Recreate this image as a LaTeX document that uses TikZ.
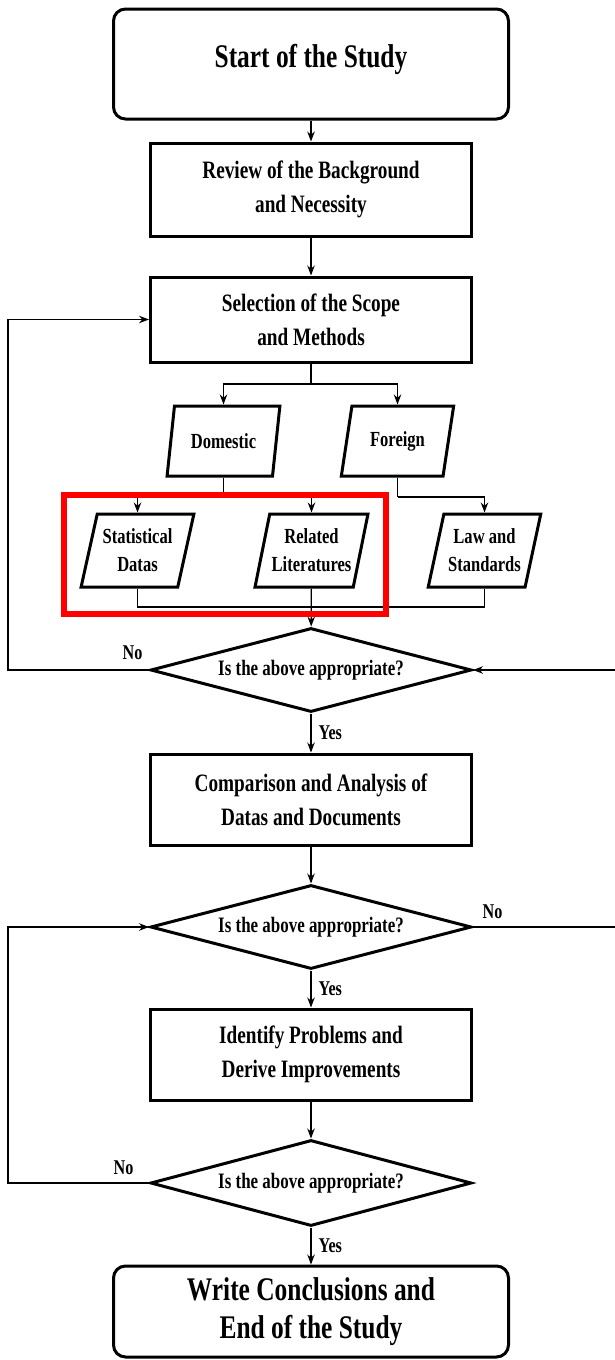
\documentclass[tikz,border=0pt]{standalone}
\usepackage{fontspec}
\setmainfont{Liberation Serif}[FakeStretch=0.77]
\usepackage{tikz}
\usetikzlibrary{arrows.meta,shapes.geometric}
\usetikzlibrary{positioning}

\begin{document}
\begin{tikzpicture}[x=1pt,y=-1pt,>={Stealth[length=10pt,width=7.5pt]},line width=1.3pt]
	\tikzset{every node/.style={align=center,inner sep=0pt}}
	\tikzset{endbox/.style={draw,rounded corners=12pt,line width=3pt,minimum width=395pt,font=\bfseries\fontsize{33}{38}\selectfont}}
	\tikzset{stepbox/.style={draw,line width=3pt,minimum width=321pt,font=\bfseries\fontsize{25}{34}\selectfont}}
	\tikzset{databox/.style={draw,trapezium,trapezium left angle=72,trapezium right angle=108,trapezium stretches=true,line width=3pt,minimum width=113pt,font=\bfseries\fontsize{21.5}{28}\selectfont}}
	\tikzset{askbox/.style={draw,diamond,aspect=3.75,line width=3pt,minimum width=321pt,minimum height=84pt,font=\bfseries\fontsize{22}{24}\selectfont}}
	\tikzset{answer/.style={font=\bfseries\fontsize{21}{24}\selectfont}}
	\useasboundingbox (0,0) rectangle (615,1360);
	\node[endbox,minimum height=110pt,text depth=17pt] (start) at (311,64) {Start of the Study};
	\node[stepbox,minimum height=93pt]  (review) at (311,189.5) {Review of the Background\\and Necessity};
	\node[stepbox,minimum height=85pt]  (scope) at (311,319.5)  {Selection of the Scope\\and Methods};
	\node[databox,minimum height=70pt]  (dom) at (223.5,441)    {Domestic};
	\node[databox,minimum height=70pt]  (frgn) at (397.5,441)   {Foreign};
	\node[databox,minimum height=73pt]  (stat) at (137.5,550.5) {Statistical\\Datas};
	\node[databox,minimum height=73pt]  (lit) at (311.5,550.5)  {Related\\Literatures};
	\node[databox,minimum height=73pt]  (law) at (484.5,550.5)  {Law and\\Standards};
	\node[askbox]                       (ask1) at (311,670)     {Is the above appropriate?};
	\node[stepbox,minimum height=91pt]  (comp) at (311,799.5)   {Comparison and Analysis of\\Datas and Documents};
	\node[askbox]                       (ask2) at (311,927)     {Is the above appropriate?};
	\node[stepbox,minimum height=91pt]  (ident) at (311,1054.5) {Identify Problems and\\Derive Improvements};
	\node[askbox,minimum height=86pt]   (ask3) at (311,1183)    {Is the above appropriate?};
	\node[endbox,minimum height=91pt]   (finish) at (311,1311.5) {Write Conclusions and\\End of the Study};
	\coordinate (split1) at (311,384);
	\coordinate (split2) at (223.5,497);
	\coordinate (split3) at (397.5,497);
	\coordinate (merge) at (311,607);
	\path
	(start)  edge [->] (review)
	(review) edge [->] (scope)
	(lit)    edge [->] (ask1)
	(comp)   edge [->] (ask2)
	(ask1)   edge [->] node [answer,right=7pt] {Yes} (comp)
	(ask2)   edge [->] node [answer,right=7pt] {Yes} (ident)
	(ident)  edge [->] (ask3)
	(ask3)   edge [->] node [answer,right=7pt] {Yes} (finish);
	\draw (scope) -- (split1);
	\draw[->] (split1) -| (dom);
	\draw[->] (split1) -| (frgn);
	\draw (dom) -- (split2);
	\draw[->] (split2) -| (stat);
	\draw[->] (split2) -| (lit);
	\draw (frgn) -- (split3);
	\draw[->] (split3) -| (law);
	\draw (stat) |- (merge) -| (law);
	% loops back
	\draw[->] (ask1.west) node [answer,above left=10pt and 6pt] {No} -- ++(-141,0) |- (scope.west);
	\draw[->] (ask2.east) node [answer,above right=8pt and 9pt] {No} -- ++(160,0) |- (ask1.east);
	\draw[->] (ask3.west) node [answer,above left=8pt and 15pt] {No} -- ++(-141,0) |- (ask2.west);
	% highlight
	\draw[red,line width=6pt] (64,495) rectangle (386,614);
\end{tikzpicture}
\end{document}
